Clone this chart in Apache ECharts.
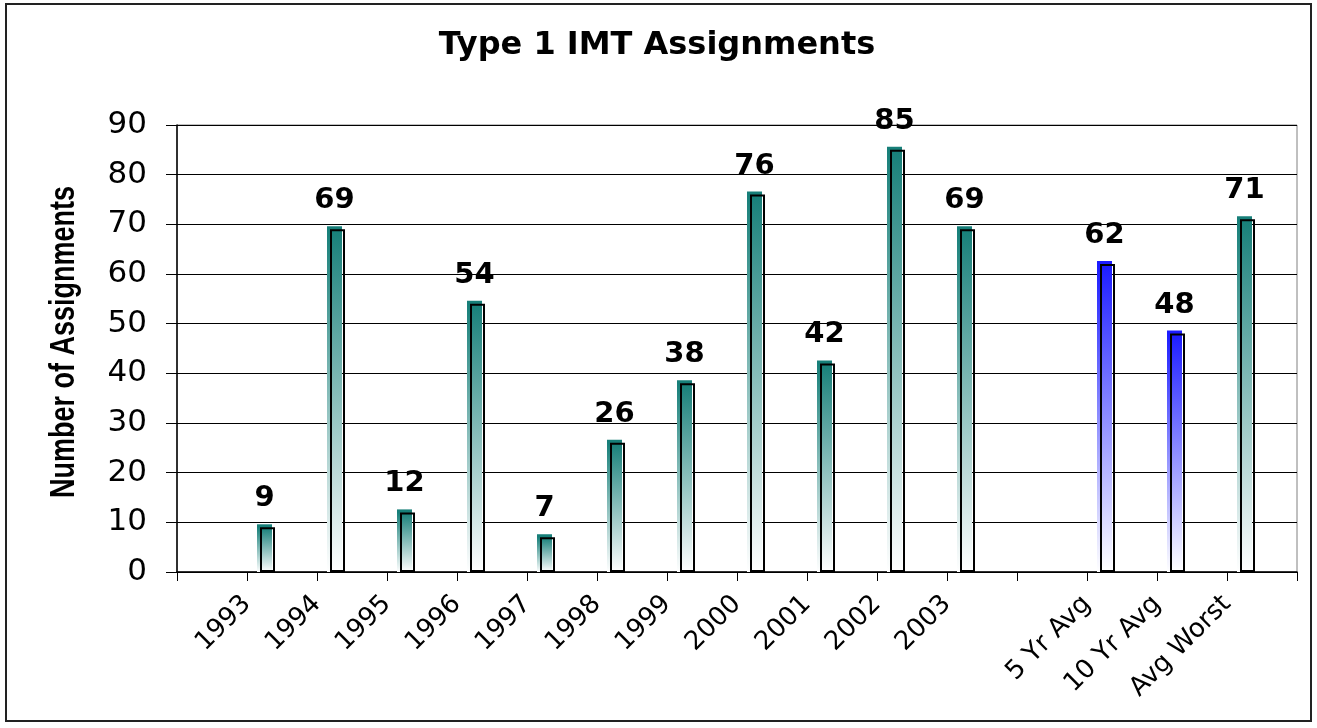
<!DOCTYPE html>
<html>
<head>
<meta charset="utf-8">
<title>Type 1 IMT Assignments</title>
<script src="https://cdn.jsdelivr.net/npm/echarts@6/dist/echarts.min.js"></script>
<style>
  html, body { margin: 0; padding: 0; background: #fff; }
  #chart { width: 1317px; height: 728px; }
</style>
</head>
<body>
<div id="chart"></div>
<script>
// categories on the bar axis (first slot and the one before the averages are empty)
const categories = ["", "1993", "1994", "1995", "1996", "1997", "1998", "1999", "2000",
  "2001", "2002", "2003", "", "5 Yr Avg", "10 Yr Avg", "Avg Worst"];
const assignments = ["-", 9, 69, 12, 54, 7, 26, 38, 76, 42, 85, 69, "-", 62, 48, 71];
const averageBars = ["5 Yr Avg", "10 Yr Avg"];
const yTicks = { min: 0, max: 90, step: 10 };
const yName = "Number of Assignments";

const teal = "#177f79";
const blue = "#1c1cff";

// labels sit on the tick marks, so a second axis with one extra slot carries them
const tickLabels = categories.concat([""]);

const fade = (top) => new echarts.graphic.LinearGradient(0, 0, 0, 1, [
  { offset: 0, color: top },
  { offset: 1, color: "#ffffff" },
]);

const chart = echarts.init(document.getElementById("chart"));

const option = {
  animation: false,
  backgroundColor: "#fff",
  title: {
    text: "Type 1 IMT Assignments",
    left: 652,
    textAlign: "center",
    top: 25,
    textStyle: { fontFamily: "DejaVu Sans", fontWeight: "bold", fontSize: 32, color: "#000" },
  },
  graphic: [
    {
      type: "rect",
      shape: { x: 6, y: 4, width: 1305, height: 717 },
      style: { fill: "none", stroke: "#222", lineWidth: 2 },
      silent: true,
    },
    {
      // axis title, stretched across like the original
      type: "text",
      x: 64,
      y: 342,
      rotation: Math.PI / 2,
      scaleY: 1.3,
      style: {
        text: yName,
        font: "bold 27px 'Liberation Sans'",
        fill: "#000",
        align: "center",
        verticalAlign: "middle",
      },
      silent: true,
    },
  ],
  grid: {
    left: 177, right: 20, top: 125, bottom: 156,
    show: true, borderColor: "#808080", borderWidth: 1, backgroundColor: "#fff",
  },
  xAxis: [
    {
      type: "category",
      data: categories,
      boundaryGap: true,
      axisLine: { lineStyle: { color: "#000", width: 1.5 } },
      axisTick: { show: true, interval: 0, length: 9, lineStyle: { color: "#000" } },
      axisLabel: { show: false },
      splitLine: { show: false },
    },
    {
      type: "category",
      data: tickLabels,
      boundaryGap: false,
      position: "bottom",
      axisLine: { show: false },
      axisTick: { show: false },
      splitLine: { show: false },
      axisLabel: {
        interval: 0, rotate: 45, margin: 28,
        fontFamily: "DejaVu Sans", fontSize: 26, color: "#000",
      },
    },
  ],
  yAxis: {
    type: "value",
    min: yTicks.min,
    max: yTicks.max,
    interval: yTicks.step,
    axisLine: { show: true, lineStyle: { color: "#000", width: 1.5 } },
    axisTick: { show: true, length: 11, lineStyle: { color: "#000" } },
    axisLabel: { margin: 30, fontFamily: "DejaVu Sans", fontSize: 31, color: "#000" },
    splitLine: { lineStyle: { color: "#000", width: 1 } },
  },
  series: [
    {
      // gradient face, with a thin strip on top
      name: "face",
      type: "bar",
      barWidth: 15,
      barGap: "-80%",
      data: assignments.map((v, i) => {
        const c = averageBars.includes(categories[i]) ? blue : teal;
        return {
          value: v,
          itemStyle: { color: fade(c), shadowColor: c, shadowOffsetY: -3, shadowBlur: 0 },
        };
      }),
      label: {
        show: true,
        position: "top",
        distance: 14,
        fontFamily: "DejaVu Sans",
        fontWeight: "bold",
        fontSize: 29,
        color: "#000",
      },
      silent: true,
    },
    {
      // black outline shifted a little to the right
      name: "outline",
      type: "bar",
      barWidth: 15,
      barGap: "-80%",
      data: assignments,
      itemStyle: { color: "rgba(0,0,0,0)", borderColor: "#000", borderWidth: 2 },
      silent: true,
    },
    {
      // empty slot that pushes the bars to the left side of each category
      name: "spacer",
      type: "bar",
      barWidth: 44,
      barGap: "-80%",
      data: categories.map(() => "-"),
      silent: true,
    },
  ],
};

chart.setOption(option);
window.addEventListener("resize", () => chart.resize());
</script>
</body>
</html>
